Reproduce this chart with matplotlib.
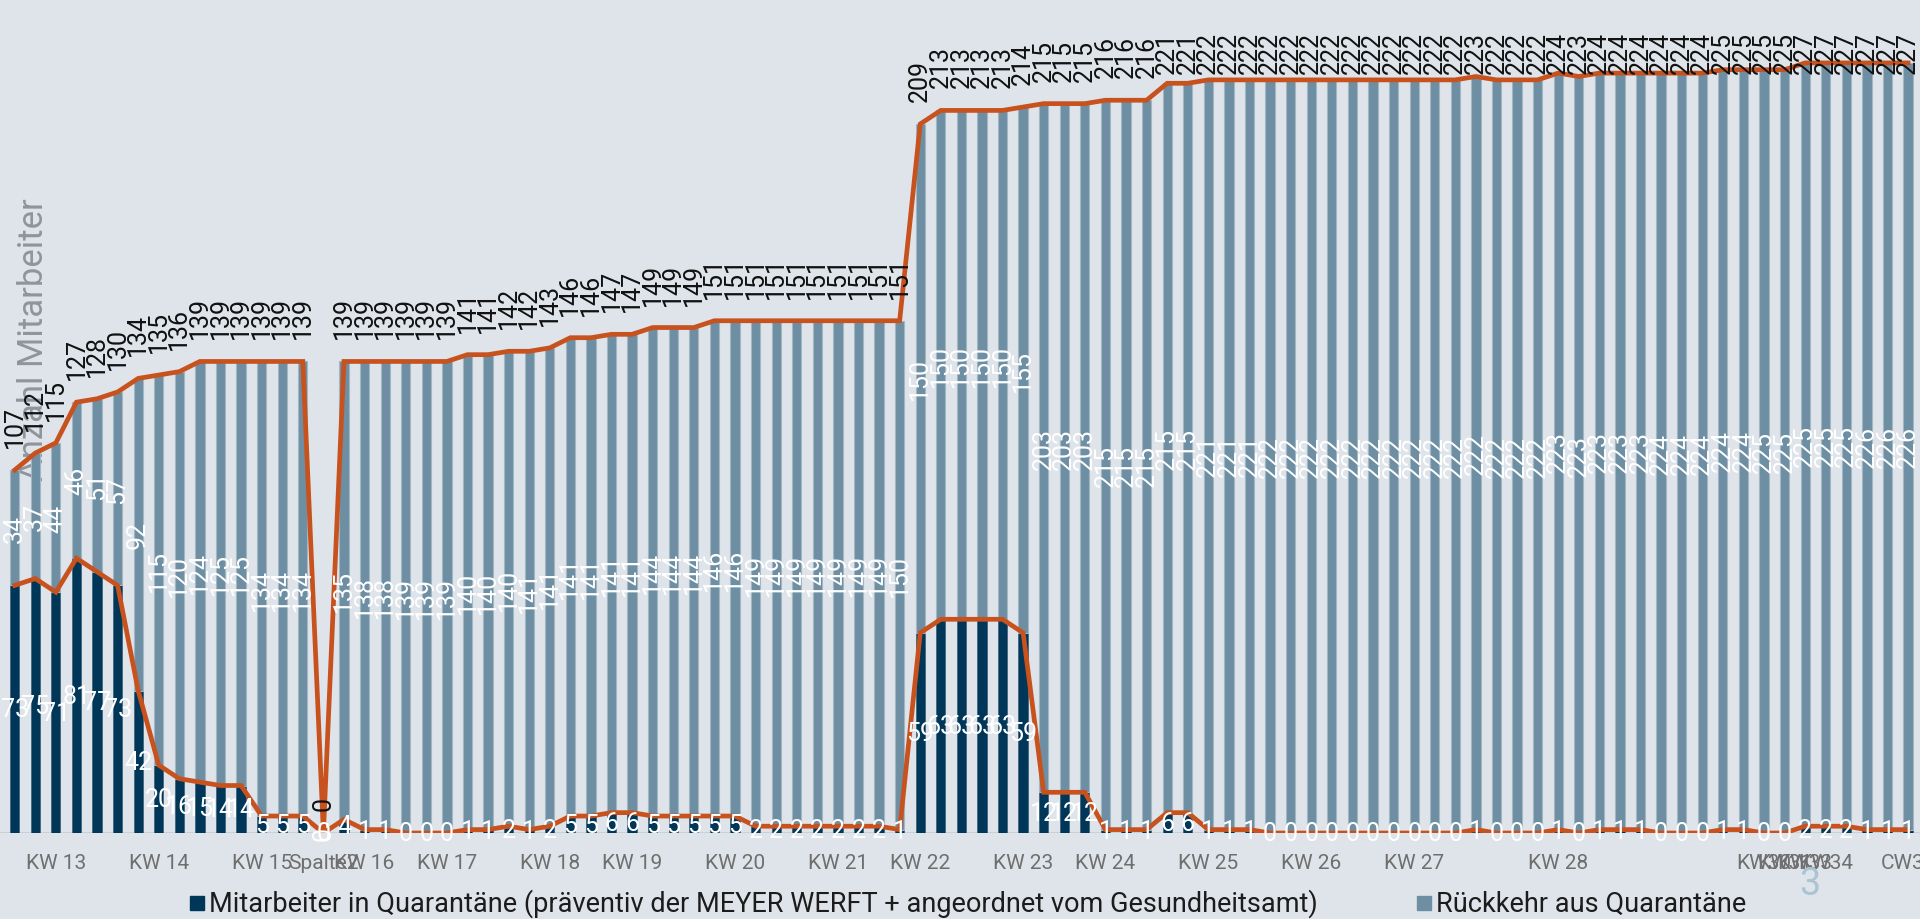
import numpy as np
import matplotlib.pyplot as plt
from matplotlib.patches import Rectangle

# employees in quarantine (dark bars) and returned from quarantine (grey bars), one value per day
quarantaene = [73, 75, 71, 81, 77, 73, 42, 20, 16, 15, 14, 14, 5, 5, 5,
               0,
               4, 1, 1, 0, 0, 0, 1, 1, 2, 1, 2, 5, 5, 6, 6, 5, 5, 5, 5, 5,
               2, 2, 2, 2, 2, 2, 2, 1,
               59, 63, 63, 63, 63, 59, 12, 12, 12, 1, 1, 1, 6, 6, 1, 1, 1,
               0, 0, 0, 0, 0, 0, 0, 0, 0, 0, 1, 0, 0, 0, 1, 0,
               1, 1, 1, 0, 0, 0, 1, 1, 0, 0, 2, 2, 2, 1, 1, 1]
rueckkehr = [34, 37, 44, 46, 51, 57, 92, 115, 120, 124, 125, 125, 134, 134, 134,
             0,
             135, 138, 138, 139, 139, 139, 140, 140, 140, 141, 141, 141, 141, 141, 141,
             144, 144, 144, 146, 146, 149, 149, 149, 149, 149, 149, 149, 150,
             150, 150, 150, 150, 150, 155, 203, 203, 203, 215, 215, 215, 215, 215,
             221, 221, 221, 222, 222, 222, 222, 222, 222, 222, 222, 222, 222,
             222, 222, 222, 222, 223, 223,
             223, 223, 223, 224, 224, 224, 224, 224, 225, 225, 225, 225, 225,
             226, 226, 226]

# category labels and the (1-based) bar they sit under
tick_bar = [3, 8, 13, 16, 18, 22, 27, 31, 36, 41, 45, 50, 54, 59, 64, 69, 76,
            86, 87, 88, 89, 93]
tick_text = ['KW 13', 'KW 14', 'KW 15', 'Spalte2', 'KW 16', 'KW 17', 'KW 18',
             'KW 19', 'KW 20', 'KW 21', 'KW 22', 'KW 23', 'KW 24', 'KW 25',
             'KW 26', 'KW 27', 'KW 28', 'KW30', 'KW31', 'KW33', 'KW34', 'CW35']

BG = '#dee4ea'
DARK = '#003657'
GREY = '#6e8fa3'
ORANGE = '#c8521e'
FONT = ['Roboto', 'DejaVu Sans']

plt.rcParams['font.family'] = FONT

q = np.array(quarantaene)
r = np.array(rueckkehr)
total = q + r
x = np.arange(len(q))

W, H = 1920, 920
fig = plt.figure(figsize=(W / 100, H / 100), dpi=100, facecolor=BG)
# zero line at 834 px from top, plot area top at 30 px
ax = fig.add_axes([0, (H - 834) / H, 1, (834 - 30) / H])
ax.set_facecolor(BG)
ax.set_xlim(-14.7 / 20.58, (W - 14.7) / 20.58)
YMAX = 237
ax.set_ylim(0, YMAX)
ax.axis('off')

ax.axhline(0, color='#c9ced3', lw=2, zorder=1)
ax.bar(x, q, width=0.45, color=DARK, edgecolor='#3d6580', lw=0.6, zorder=2)
ax.bar(x, r, bottom=q, width=0.45, color=GREY, edgecolor='#a3b6c4', lw=0.8, zorder=2)
ax.plot(x, total, color=ORANGE, lw=3.4, zorder=3, solid_joinstyle='miter')
ax.plot(x, q, color=ORANGE, lw=3.4, zorder=3, solid_joinstyle='miter')

lab_fs = 18
gap = 23 / 3.39
for i in x:
    # total on top (black, rotated), pushed down when hitting the plot top
    s = str(total[i])
    if total[i] + gap + 12 > YMAX:
        ax.text(i, YMAX - 0.5, s, rotation=90, ha='center', va='top',
                fontsize=lab_fs, color='#111111', zorder=5)
    else:
        ax.text(i, total[i] + gap, s, rotation=90, ha='center', va='bottom',
                fontsize=lab_fs, color='#111111', zorder=5)
    # returned, centred in grey segment
    ax.text(i, q[i] + r[i] / 2, str(r[i]), rotation=90, ha='center', va='center',
            fontsize=lab_fs, color='white', zorder=5)
    # quarantine, centred in dark segment
    ax.text(i, q[i] / 2, str(q[i]), ha='center', va='center',
            fontsize=lab_fs, color='white', zorder=5)

# y label sits behind the data labels
ax.text(34 / W, 1 - 340 / H, 'Anzahl Mitarbeiter', transform=fig.transFigure,
        rotation=90, ha='center', va='center', fontsize=25, color='#8e959b',
        zorder=1)

for b, t in zip(tick_bar, tick_text):
    ax.text(b - 1, -30 / 804, t, transform=ax.get_xaxis_transform(),
            ha='center', va='center', fontsize=15, color='#6f6f6f',
            clip_on=False)

# legend
leg_y = 1 - 904 / H
for sx, col, txt in [(190, DARK, 'Mitarbeiter in Quarantäne (präventiv der MEYER WERFT + angeordnet vom Gesundheitsamt)'),
                     (1417, GREY, 'Rückkehr aus Quarantäne')]:
    fig.add_artist(Rectangle((sx / W, leg_y - 7 / H), 14 / W, 14 / H,
                             transform=fig.transFigure, color=col))
    fig.text((sx + 19) / W, leg_y, txt, ha='left', va='center', fontsize=19.5,
             color='#1c1c1c')

fig.text(1810 / W, 1 - 885 / H, '3', ha='center', va='center', fontsize=27,
         color='#a9c4d3')

fig.savefig('out.png', dpi=100, facecolor=BG)
